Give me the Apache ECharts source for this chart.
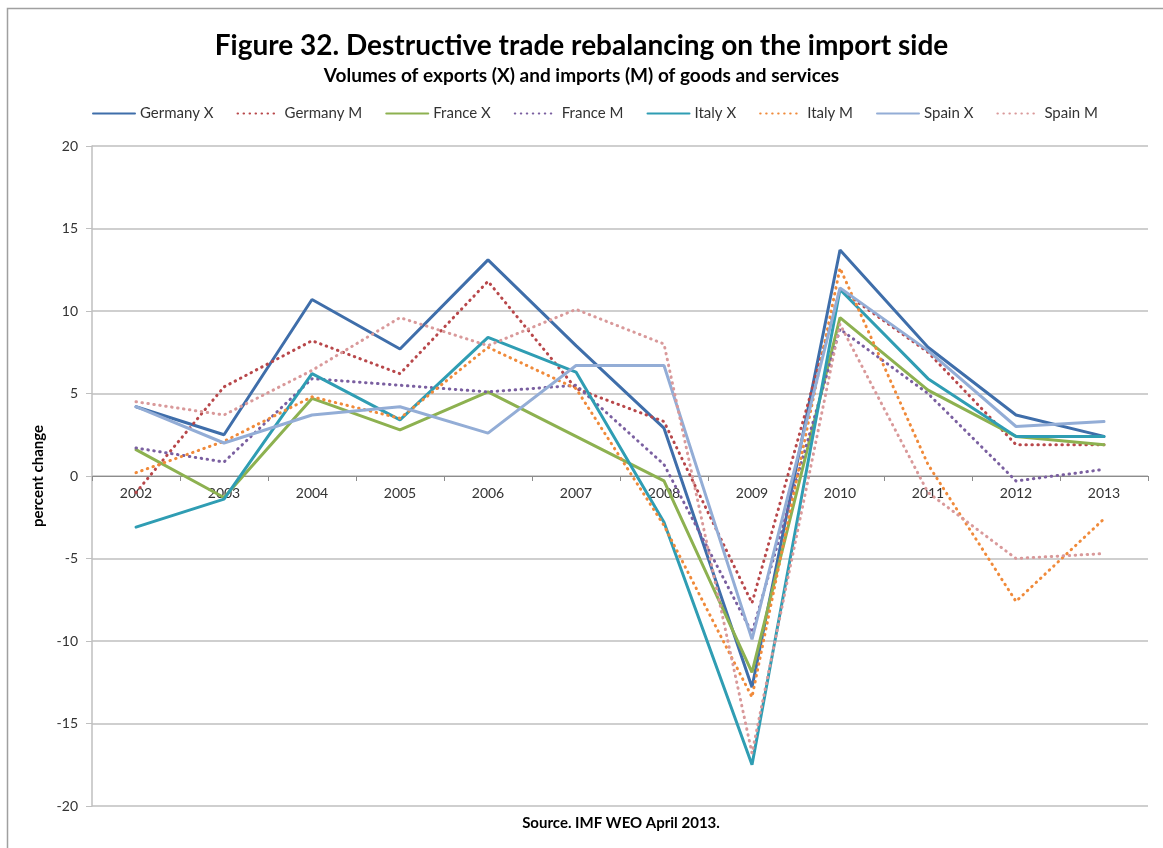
<!DOCTYPE html>
<html>
<head>
<meta charset="utf-8">
<script src="https://cdn.jsdelivr.net/npm/echarts@6/dist/echarts.min.js"></script>
<style>
html,body{margin:0;padding:0;background:#fff;}
#c{width:1163px;height:848px;}
</style>
</head>
<body>
<div id="c"></div>
<script>
const years = ['2002','2003','2004','2005','2006','2007','2008','2009','2010','2011','2012','2013'];
const germanyX = [4.2, 2.5, 10.7, 7.7, 13.1, 7.9, 2.9, -12.8, 13.7, 7.8, 3.7, 2.4];
const germanyM = [-1.0, 5.4, 8.2, 6.2, 11.8, 5.3, 3.3, -7.7, 11.3, 7.5, 1.9, 1.9];
const franceX  = [1.6, -1.3, 4.7, 2.8, 5.1, 2.4, -0.3, -11.9, 9.6, 5.2, 2.4, 1.9];
const franceM  = [1.7, 0.85, 5.9, 5.5, 5.1, 5.5, 0.7, -9.5, 8.9, 5.0, -0.3, 0.4];
const italyX   = [-3.1, -1.4, 6.2, 3.4, 8.4, 6.3, -2.8, -17.5, 11.3, 5.9, 2.4, 2.4];
const italyM   = [0.2, 2.1, 4.8, 3.5, 7.8, 5.3, -3.0, -13.4, 12.6, 0.7, -7.6, -2.6];
const spainX   = [4.2, 2.0, 3.7, 4.2, 2.6, 6.7, 6.7, -9.9, 11.4, 7.6, 3.0, 3.3];
const spainM   = [4.5, 3.7, 6.4, 9.6, 7.9, 10.1, 8.0, -16.8, 9.2, -1.0, -5.0, -4.7];

const defs = [
  ['Germany X', germanyX, '#3F6EAA', 'solid'],
  ['Germany M', germanyM, '#B8474A', 'dotted'],
  ['France X',  franceX,  '#8DB150', 'solid'],
  ['France M',  franceM,  '#7A5FA0', 'dotted'],
  ['Italy X',   italyX,   '#2F9DB3', 'solid'],
  ['Italy M',   italyM,   '#F08A3A', 'dotted'],
  ['Spain X',   spainX,   '#93ADD6', 'solid'],
  ['Spain M',   spainM,   '#D9999A', 'dotted']
];

const font = 'Lato, "Open Sans", sans-serif';
const chart = echarts.init(document.getElementById('c'), null, {renderer: 'canvas'});
chart.setOption({
  animation: false,
  backgroundColor: '#fff',
  textStyle: {fontFamily: font},
  title: [
    {text: 'Figure 32. Destructive trade rebalancing on the import side', left: 'center', top: 27,
     textStyle: {fontFamily: font, fontSize: 28, fontWeight: 'bold', color: '#000'}},
    {text: 'Volumes of exports (X) and imports (M) of goods and services', left: 'center', top: 61,
     textStyle: {fontFamily: font, fontSize: 19, fontWeight: 'bold', color: '#000'}},
    {text: 'Source. IMF WEO April 2013.', left: 616, textAlign: 'center', top: 811,
     textStyle: {fontFamily: font, fontSize: 15, fontWeight: 'bold', color: '#000'}}
  ],
  graphic: [
    {type: 'rect', shape: {x: 7.5, y: 8.5, width: 1170, height: 860},
     style: {fill: 'none', stroke: '#A0A0A0', lineWidth: 1.5}, silent: true}
  ],
  legend: {
    top: 101, left: 87,
    itemWidth: 42, itemHeight: 10, itemGap: 23,
    itemStyle: {opacity: 0},
    textStyle: {fontFamily: font, fontSize: 15, color: '#333'},
    data: defs.map(d => d[0])
  },
  grid: {left: 92, right: 15, top: 146, bottom: 42, containLabel: false},
  xAxis: {
    type: 'category', data: years, boundaryGap: true,
    offset: -330,
    axisLine: {onZero: false, lineStyle: {color: '#8C8C8C', width: 1}},
    axisTick: {show: true, length: 5, lineStyle: {color: '#8C8C8C'}},
    axisLabel: {fontFamily: font, fontSize: 14, color: '#333', margin: 10},
    splitLine: {show: false}
  },
  yAxis: {
    type: 'value', min: -20, max: 20, interval: 5,
    name: 'percent change', nameLocation: 'middle', nameGap: 40, nameRotate: 90,
    nameTextStyle: {fontFamily: font, fontSize: 15, fontWeight: 'bold', color: '#000'},
    axisLine: {show: true, lineStyle: {color: '#BFBFBF', width: 1.5}},
    axisTick: {show: true, length: 6, lineStyle: {color: '#BFBFBF'}},
    axisLabel: {fontFamily: font, fontSize: 14, color: '#333', margin: 14},
    splitLine: {show: true, lineStyle: {color: '#BFBFBF', width: 1.5}}
  },
  series: defs.map(d => ({
    name: d[0], type: 'line', data: d[1],
    symbol: 'none', smooth: false,
    itemStyle: {color: d[2]},
    lineStyle: {color: d[2], width: 3, type: d[3] === 'solid' ? 'solid' : [0.5, 5.5], cap: 'round'}
  }))
});
</script>
</body>
</html>
